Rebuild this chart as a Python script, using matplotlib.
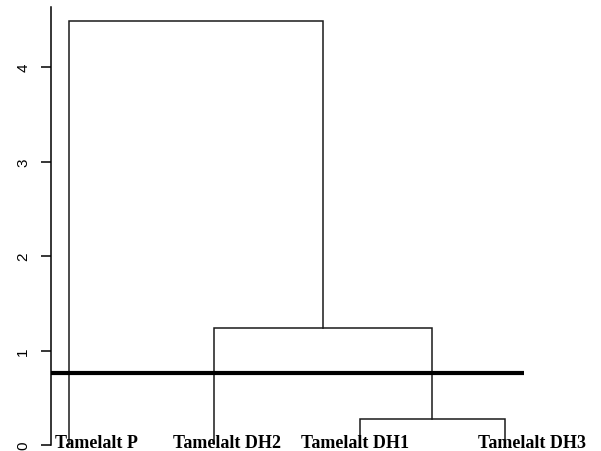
import matplotlib
matplotlib.use("Agg")
import matplotlib.pyplot as plt

# leaves in plotting order, left to right
leaf_labels = ["Tamelalt P", "Tamelalt DH2", "Tamelalt DH1", "Tamelalt DH3"]
# merges as (left node, right node, height); nodes 0-3 are leaves,
# node 4 onwards are the clusters made by earlier merges
merges = [(2, 3, 0.28), (1, 4, 1.24), (0, 5, 4.49)]
cut_height = 0.76
yticks = [0, 1, 2, 3, 4]

# horizontal shift of each label relative to its leaf (data units)
label_shift = [0.19, 0.09, -0.03, 0.19]


def draw_dendrogram(ax, n_leaves, merges):
    x = {i: i + 1.0 for i in range(n_leaves)}
    h = {i: 0.0 for i in range(n_leaves)}
    for k, (a, b, height) in enumerate(merges):
        node = n_leaves + k
        ax.plot([x[a], x[a], x[b], x[b]], [h[a], height, height, h[b]],
                color="#1a1a1a", lw=1.1, solid_joinstyle="miter")
        x[node] = (x[a] + x[b]) / 2
        h[node] = height


fig = plt.figure(figsize=(6.01, 4.52), dpi=100)
ax = fig.add_axes([51 / 601, 6 / 452, (590 - 51) / 601, (446 - 8) / 452])

draw_dendrogram(ax, len(leaf_labels), merges)
ax.plot([0.876, 4.13], [cut_height, cut_height], color="black", lw=3.0,
        solid_capstyle="butt")

for i, name in enumerate(leaf_labels):
    ax.text(i + 1 + label_shift[i], -0.025, name, ha="center", va="baseline",
            family="Liberation Serif", weight="bold", fontsize=13,
            clip_on=False)

ax.set_xlim(0.876, 4.586)
ax.set_ylim(0, 4.635)
for side in ["top", "right", "bottom"]:
    ax.spines[side].set_visible(False)
ax.spines["left"].set_linewidth(1.1)
ax.set_xticks([])
ax.set_yticks(yticks)
ax.set_yticklabels([str(t) for t in yticks], rotation=90, va="center",
                   family="Liberation Sans", fontsize=11)
ax.tick_params(axis="y", length=7, width=1.1, pad=8)

fig.savefig("out.png", dpi=100)
